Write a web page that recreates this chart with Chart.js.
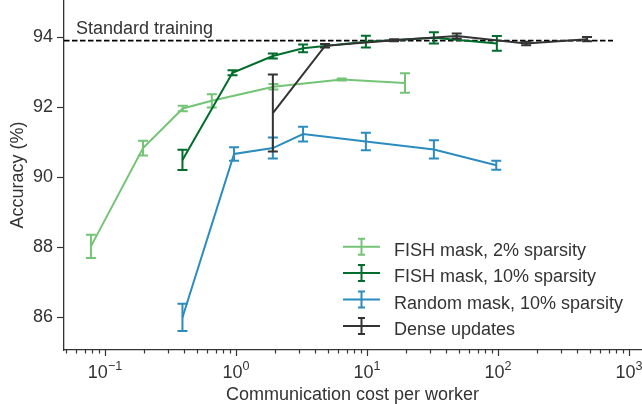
<!DOCTYPE html>
<html>
<head>
<meta charset="utf-8">
<script src="https://cdn.jsdelivr.net/npm/chart.js@4.4.0/dist/chart.umd.min.js"></script>
<style>
  html, body { margin: 0; padding: 0; background: #fff; }
  canvas { display: block; }
</style>
</head>
<body>
<canvas id="chart" width="642" height="404"></canvas>
<script>
// values
const fish2Cost = [0.078, 0.195, 0.392, 0.653, 1.93, 6.41, 19.5];
const fish2Acc  = [88.02, 90.83, 91.96, 92.18, 92.58, 92.79, 92.69];
const fish2Err  = [0.33, 0.21, 0.08, 0.19, 0.08, 0.03, 0.28];

const fish10Cost = [0.39, 0.94, 1.91, 3.25, 9.8, 32.4, 98];
const fish10Acc  = [90.49, 92.98, 93.46, 93.68, 93.87, 93.98, 93.82];
const fish10Err  = [0.29, 0.07, 0.07, 0.11, 0.17, 0.16, 0.21];

const randomCost = [0.39, 0.966, 1.91, 3.25, 9.8, 32.4, 97];
const randomAcc  = [85.99, 90.66, 90.83, 91.23, 91.02, 90.79, 90.34];
const randomErr  = [0.39, 0.19, 0.30, 0.21, 0.25, 0.26, 0.13];

const denseCost = [1.91, 4.78, 16.1, 48.4, 164, 478];
const denseAcc  = [91.83, 93.75, 93.91, 94.03, 93.82, 93.94];
const denseErr  = [1.10, 0.05, 0.03, 0.07, 0.05, 0.06];

const standardCost = [0.0486, 755];
const standardAcc = 93.9;

const seriesLabels = ['FISH mask, 2% sparsity', 'FISH mask, 10% sparsity', 'Random mask, 10% sparsity', 'Dense updates'];
const xTickExponents = [-1, 0, 1, 2, 3];
const yTicks = [86, 88, 90, 92, 94];

const FONT = "'Liberation Sans', Arial, sans-serif";
const INK = '#333333';
const colors = ['#74c476', '#006d2c', '#2b8cbe', '#333333'];

function pts(xs, ys) {
  return xs.map((x, i) => ({ x: x, y: ys[i] }));
}

function series(i, xs, ys, err) {
  return {
    label: seriesLabels[i],
    data: pts(xs, ys),
    yErr: err,
    borderColor: colors[i],
    borderWidth: 2,
    pointRadius: 0,
    tension: 0,
    order: 4 - i
  };
}

// vertical error bars with caps, drawn right after each dataset
const errorBars = {
  id: 'errorBars',
  afterDatasetDraw(chart, args) {
    const ds = chart.data.datasets[args.index];
    if (!ds.yErr) return;
    const ctx = chart.ctx;
    const x = chart.scales.x, y = chart.scales.y;
    ctx.save();
    ctx.strokeStyle = ds.borderColor;
    ctx.lineWidth = 2;
    ds.data.forEach((p, i) => {
      const px = x.getPixelForValue(p.x);
      const top = y.getPixelForValue(p.y + ds.yErr[i]);
      const bot = y.getPixelForValue(p.y - ds.yErr[i]);
      ctx.beginPath();
      ctx.moveTo(px, top); ctx.lineTo(px, bot);
      ctx.moveTo(px - 5, top); ctx.lineTo(px + 5, top);
      ctx.moveTo(px - 5, bot); ctx.lineTo(px + 5, bot);
      ctx.stroke();
    });
    ctx.restore();
  }
};

// log ticks with superscript labels, the "Standard training" note and the legend
const decorations = {
  id: 'decorations',
  afterDraw(chart) {
    const ctx = chart.ctx;
    const area = chart.chartArea;
    const x = chart.scales.x, y = chart.scales.y;
    ctx.save();
    ctx.strokeStyle = INK;
    ctx.fillStyle = INK;
    ctx.lineWidth = 1.2;

    // minor + major ticks
    ctx.beginPath();
    for (let e = -2; e <= 3; e++) {
      for (let m = 1; m <= 9; m++) {
        const v = m * Math.pow(10, e);
        if (v < x.min || v > x.max) continue;
        const px = Math.round(x.getPixelForValue(v)) + 0.5;
        ctx.moveTo(px, area.bottom);
        ctx.lineTo(px, area.bottom + (m === 1 ? 6 : 3.5));
      }
    }
    ctx.stroke();

    // 10^k labels
    xTickExponents.forEach(k => {
      const px = x.getPixelForValue(Math.pow(10, k));
      const exp = k < 0 ? '\u2212' + (-k) : String(k);
      ctx.font = '18px ' + FONT;
      const wBase = ctx.measureText('10').width;
      ctx.font = '12.6px ' + FONT;
      const wExp = ctx.measureText(exp).width;
      const start = px - (wBase + wExp) / 2;
      ctx.textAlign = 'left';
      ctx.textBaseline = 'alphabetic';
      ctx.font = '18px ' + FONT;
      ctx.fillText('10', start, area.bottom + 27.5);
      ctx.font = '12.6px ' + FONT;
      ctx.fillText(exp, start + wBase, area.bottom + 19.5);
    });

    // note above the dashed line
    ctx.font = '18px ' + FONT;
    ctx.fillText('Standard training', area.left + 12, y.getPixelForValue(standardAcc) - 7);

    // legend
    const x0 = area.right - 298, x1 = area.right - 261, xm = (x0 + x1) / 2;
    chart.data.datasets.filter(d => d.yErr).forEach((ds, i) => {
      const cy = area.bottom - 103.3 + i * 26.4;
      ctx.strokeStyle = ds.borderColor;
      ctx.lineWidth = 2;
      ctx.beginPath();
      ctx.moveTo(x0, cy); ctx.lineTo(x1, cy);
      ctx.moveTo(xm, cy - 8); ctx.lineTo(xm, cy + 8);
      ctx.moveTo(xm - 3.5, cy - 8); ctx.lineTo(xm + 3.5, cy - 8);
      ctx.moveTo(xm - 3.5, cy + 8); ctx.lineTo(xm + 3.5, cy + 8);
      ctx.stroke();
      ctx.fillStyle = INK;
      ctx.fillText(ds.label, area.right - 247, cy + 9);
    });
    ctx.restore();
  }
};

new Chart(document.getElementById('chart'), {
  type: 'line',
  data: {
    datasets: [
      series(0, fish2Cost, fish2Acc, fish2Err),
      series(1, fish10Cost, fish10Acc, fish10Err),
      series(2, randomCost, randomAcc, randomErr),
      series(3, denseCost, denseAcc, denseErr),
      {
        label: 'Standard training',
        data: pts(standardCost, [standardAcc, standardAcc]),
        borderColor: '#000000',
        borderWidth: 1.9,
        borderDash: [5.5, 2.5],
        pointRadius: 0,
        order: 5
      }
    ]
  },
  options: {
    responsive: false,
    animation: false,
    devicePixelRatio: 1,
    layout: { padding: { left: 0, right: 1, top: 0, bottom: 0 } },
    plugins: { legend: { display: false }, tooltip: { enabled: false } },
    scales: {
      x: {
        type: 'logarithmic',
        min: 0.0486,
        max: 1235,
        grid: { display: true, drawOnChartArea: false, drawTicks: false },
        border: { color: INK, width: 1.3 },
        ticks: { display: false },
        title: {
          display: true,
          text: 'Communication cost per worker',
          color: INK,
          font: { family: FONT, size: 18, lineHeight: 1 },
          padding: { top: 0, bottom: 0 }
        },
        afterFit(s) { s.height = 54; s.paddingLeft = 0; s.paddingRight = 0; }
      },
      y: {
        min: 85.06,
        max: 95.06,
        afterBuildTicks(s) { s.ticks = yTicks.map(v => ({ value: v })); },
        grid: { drawOnChartArea: false, tickLength: 7, tickColor: INK, tickWidth: 1.2 },
        border: { color: INK, width: 1.3 },
        ticks: { color: INK, font: { family: FONT, size: 18 }, padding: 4 },
        title: {
          display: true,
          text: 'Accuracy (%)',
          color: INK,
          font: { family: FONT, size: 18, lineHeight: 1 },
          padding: { top: 9.5, bottom: 0 }
        },
        afterFit(s) { s.width = 64; s.paddingTop = 0; s.paddingBottom = 0; }
      }
    }
  },
  plugins: [errorBars, decorations]
});
</script>
</body>
</html>
